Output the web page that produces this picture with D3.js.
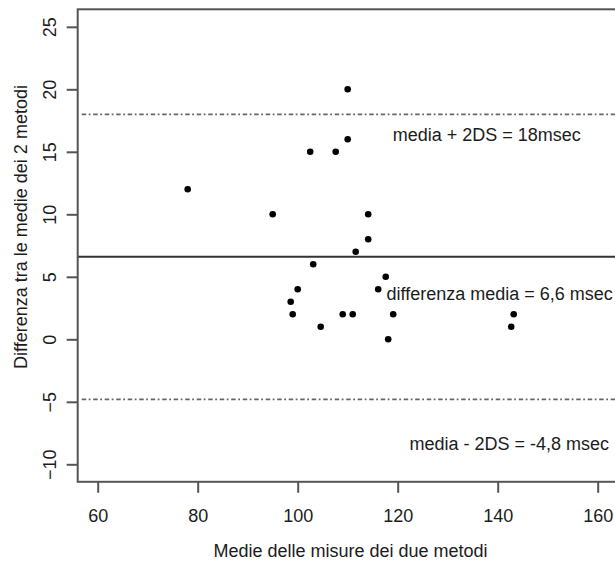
<!DOCTYPE html>
<html>
<head>
<meta charset="utf-8">
<script src="https://cdn.jsdelivr.net/npm/d3@7"></script>
<style>
  body { margin: 0; background: #fff; }
  svg { font-family: "Liberation Sans", Arial, sans-serif; }
</style>
</head>
<body>
<div id="chart"></div>
<script>
// Bland-Altman: media delle due misure vs differenza
const mediaMisure = [110, 110, 102.5, 107.6, 78, 95, 114.1, 114.1, 111.6, 103.1, 117.6, 116.1,
                     100, 98.6, 99, 104.6, 109, 111, 119.1, 118.1, 143.2, 142.7];
const differenze  = [20, 16, 15, 15, 12, 10, 10, 8, 7, 6, 5, 4,
                     4, 3, 2, 1, 2, 2, 2, 0, 2, 1];

const xTicks = [60, 80, 100, 120, 140, 160];
const yTicks = [-10, -5, 0, 5, 10, 15, 20, 25];

const diffMedia = 6.6;
const limiti = [18, -4.8];

const annotazioni = [
    { text: 'media + 2DS = 18msec', x: 137.8, y: 16.4 },
    { text: 'differenza media = 6,6 msec', x: 140.4, y: 3.66 },
    { text: 'media - 2DS = -4,8 msec', x: 142.3, y: -8.34 }
];

const xLabel = 'Medie delle misure dei due metodi';
const yLabel = 'Differenza tra le medie dei 2 metodi';

const width = 615, height = 566;

const svg = d3.select('#chart').append('svg')
    .attr('width', width)
    .attr('height', height);

const x = d3.scaleLinear().domain([56, 164]).range([77.7, 617.7]);
const y = d3.scaleLinear().domain([-11.4, 26.4]).range([481.8, 9.3]);

const ink = '#1c1c1c';
const frameCol = '#555';

// reference lines
svg.append('line')
    .attr('x1', x.range()[0]).attr('x2', x.range()[1])
    .attr('y1', y(diffMedia)).attr('y2', y(diffMedia))
    .attr('stroke', '#333').attr('stroke-width', 2);

limiti.forEach(v => {
    svg.append('line')
        .attr('x1', x.range()[0] + 4).attr('x2', x.range()[1])
        .attr('y1', y(v)).attr('y2', y(v))
        .attr('stroke', '#666')
        .attr('stroke-width', 1.8)
        .attr('stroke-dasharray', '4.5,2.5,1.8,2.7');
});

// frame
svg.append('rect')
    .attr('x', x.range()[0]).attr('y', y.range()[1])
    .attr('width', x.range()[1] - x.range()[0])
    .attr('height', y.range()[0] - y.range()[1])
    .attr('fill', 'none')
    .attr('stroke', frameCol)
    .attr('stroke-width', 2);

// axes
const xAxis = svg.append('g')
    .attr('transform', `translate(0,${y.range()[0]})`)
    .call(d3.axisBottom(x).tickValues(xTicks).tickSize(11).tickSizeOuter(0).tickFormat(d3.format('d')));
xAxis.select('.domain').remove();
xAxis.selectAll('.tick line').attr('stroke', frameCol).attr('stroke-width', 2);
xAxis.selectAll('.tick text')
    .attr('y', 40).attr('dy', 0)
    .attr('fill', ink)
    .style('font-size', '18px');

const yAxis = svg.append('g')
    .attr('transform', `translate(${x.range()[0]},0)`)
    .call(d3.axisLeft(y).tickValues(yTicks).tickSize(11).tickSizeOuter(0).tickFormat(d3.format('d')));
yAxis.select('.domain').remove();
yAxis.selectAll('.tick line').attr('stroke', frameCol).attr('stroke-width', 2);
yAxis.selectAll('.tick text')
    .attr('transform', 'rotate(-90)')
    .attr('x', 0).attr('y', -21.5).attr('dy', 0)
    .attr('text-anchor', 'middle')
    .attr('fill', ink)
    .style('font-size', '18px');

// axis titles
svg.append('text')
    .attr('x', 350.5).attr('y', 557)
    .attr('text-anchor', 'middle')
    .attr('fill', ink)
    .style('font-size', '18px')
    .text(xLabel);

svg.append('text')
    .attr('transform', 'translate(27,227) rotate(-90)')
    .attr('text-anchor', 'middle')
    .attr('fill', ink)
    .style('font-size', '18px')
    .text(yLabel);

// points
svg.selectAll('.punto')
    .data(mediaMisure)
    .enter()
    .append('circle')
    .attr('class', 'punto')
    .attr('cx', d => x(d))
    .attr('cy', (d, i) => y(differenze[i]))
    .attr('r', 3.3)
    .attr('fill', '#000');

// annotations
annotazioni.forEach(a => {
    svg.append('text')
        .attr('x', x(a.x)).attr('y', y(a.y))
        .attr('dy', '0.35em')
        .attr('text-anchor', 'middle')
        .attr('fill', ink)
        .style('font-size', '18px')
        .text(a.text);
});
</script>
</body>
</html>
